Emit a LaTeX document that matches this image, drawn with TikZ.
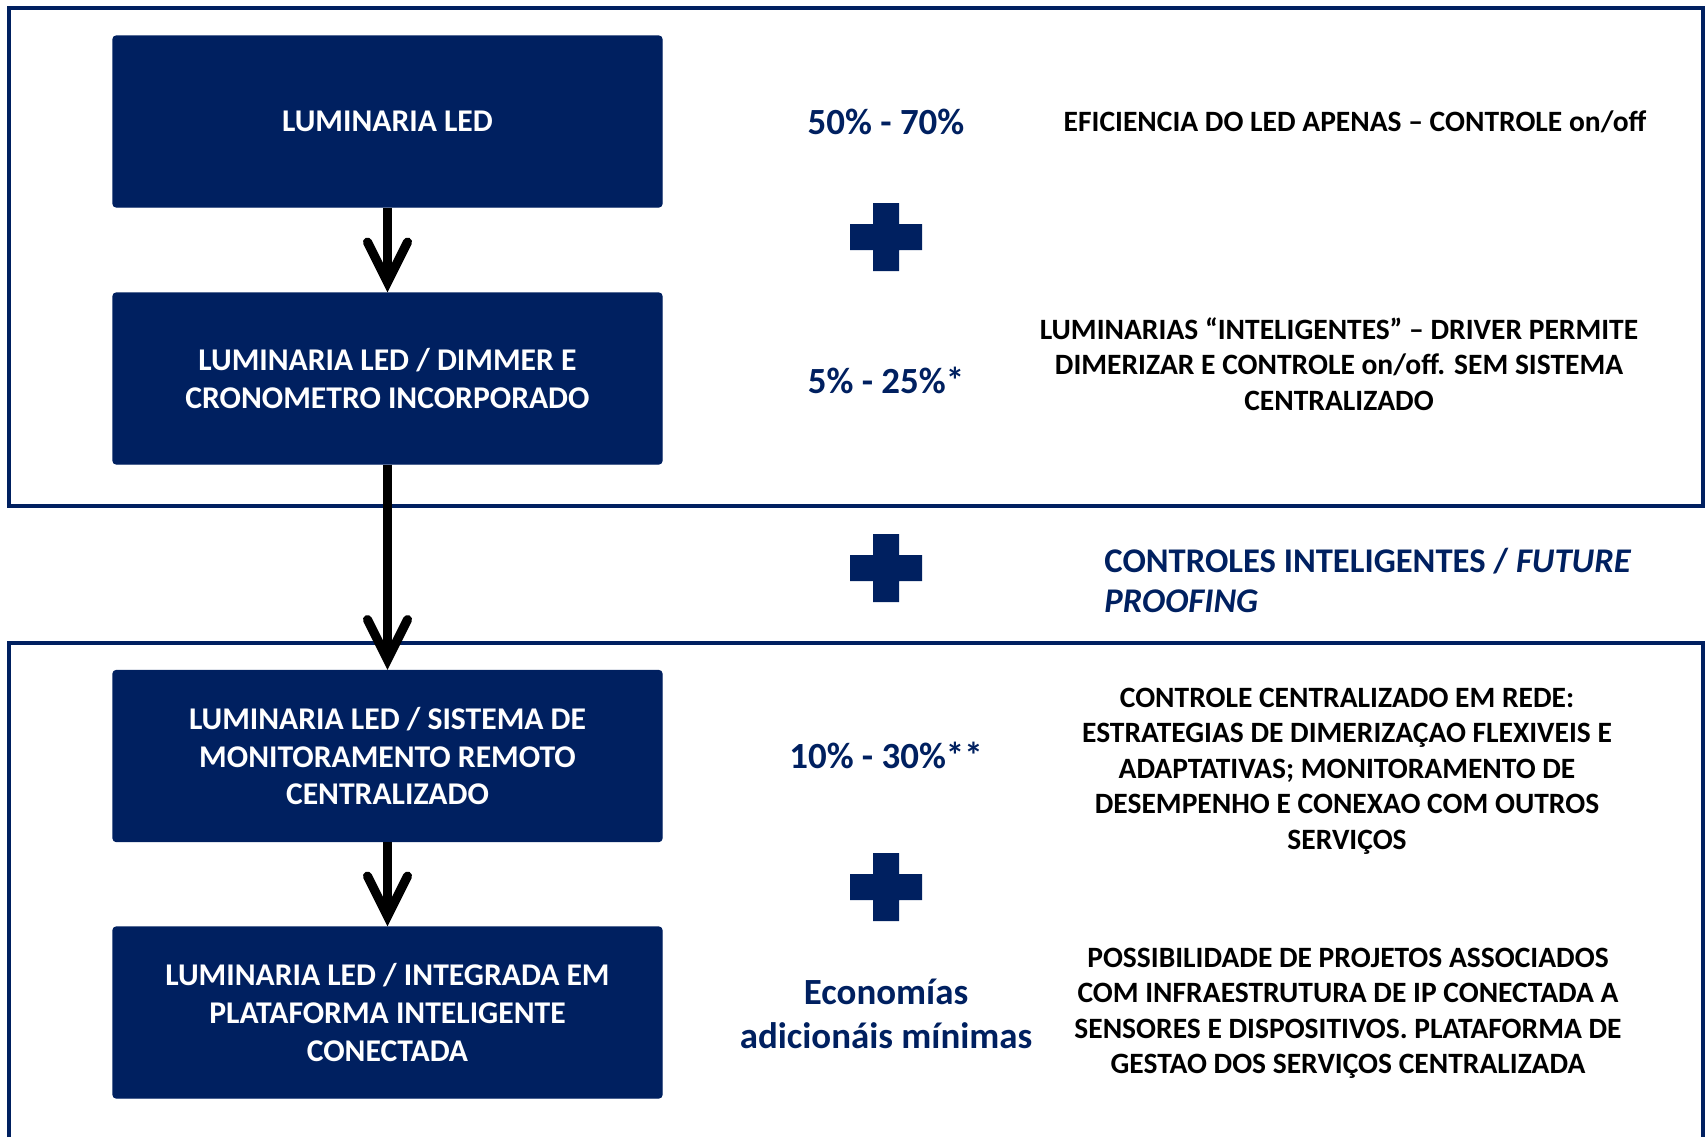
\documentclass[tikz,border=0pt]{standalone}
\usepackage{fontspec}
\setmainfont{Carlito}
\usetikzlibrary{arrows.meta}
\definecolor{navy}{RGB}{0,32,96}

\begin{document}
\begin{tikzpicture}

  \useasboundingbox (0,0) rectangle (17.07,-11.37);

  \draw[navy,line width=1.4pt] (0.09,-0.08) rectangle (17.03,-5.06);
  \draw[navy,line width=1.4pt] (0.09,-11.37) -- (0.09,-6.43) -- (17.03,-6.43) -- (17.03,-11.37);

  \begin{scope}[every node/.style={fill=navy,draw=navy,rounded corners=1pt,minimum width=5.49cm,minimum height=1.71cm,text=white,align=center,font=\fontsize{9}{10.8}\selectfont\bfseries}]
    \node (b1) at (3.875,-1.215) {LUMINARIA LED};
    \node (b2) at (3.875,-3.785) {LUMINARIA LED / DIMMER E\\CRONOMETRO INCORPORADO};
    \node (b3) at (3.875,-7.56)  {LUMINARIA LED / SISTEMA DE\\MONITORAMENTO REMOTO\\CENTRALIZADO};
    \node (b4) at (3.875,-10.125) {LUMINARIA LED / INTEGRADA EM\\PLATAFORMA INTELIGENTE\\CONECTADA};
  \end{scope}

  \begin{scope}[every edge/.style={draw,line width=2.6pt,-{Straight Barb[length=0.40cm,width=0.40cm,line cap=round]}}]
    \path (b1) edge (b2);
    \path (b2) edge (b3);
    \path (b3) edge (b4);
  \end{scope}

  \foreach \y in {-2.37,-5.68,-8.87}
    \fill[navy] (8.50,\y+0.13) rectangle (9.22,\y-0.13) (8.73,\y+0.34) rectangle (8.99,\y-0.34);

  \begin{scope}[every node/.style={text=navy,align=center,font=\fontsize{10.5}{12.7}\selectfont\bfseries}]
    \node (p1) at (8.86,-1.22)  {50\% - 70\%};
    \node (p2) at (8.86,-3.80)  {5\% - 25\%*};
    \node (p3) at (8.86,-7.55)  {10\% - 30\%**};
    \node (p4) at (8.86,-10.14) {Economías\\adicionáis mínimas};
  \end{scope}

  \begin{scope}[every node/.style={align=center,font=\fontsize{8.4}{10.1}\selectfont\bfseries}]
    \node (d1) at (13.55,-1.22)  {EFICIENCIA DO LED APENAS – CONTROLE on/off};
    \node (d2) at (13.39,-3.64)  {LUMINARIAS “INTELIGENTES” – DRIVER PERMITE\\DIMERIZAR E CONTROLE on/off. SEM SISTEMA\\CENTRALIZADO};
    \node (d3) at (13.47,-7.71)  {CONTROLE CENTRALIZADO EM REDE:\\ESTRATEGIAS DE DIMERIZAÇAO FLEXIVEIS E\\ADAPTATIVAS; MONITORAMENTO DE\\DESEMPENHO E CONEXAO COM OUTROS\\SERVIÇOS};
    \node (d4) at (13.48,-10.135) {POSSIBILIDADE DE PROJETOS ASSOCIADOS\\COM INFRAESTRUTURA DE IP CONECTADA A\\SENSORES E DISPOSITIVOS. PLATAFORMA DE\\GESTAO DOS SERVIÇOS CENTRALIZADA};
  \end{scope}

  \node[anchor=west,text=navy,align=left,font=\fontsize{9.85}{11.4}\selectfont\bfseries] (c1) at (10.92,-5.80)
    {CONTROLES INTELIGENTES / \textit{FUTURE}\\\textit{PROOFING}};

\end{tikzpicture}
\end{document}
